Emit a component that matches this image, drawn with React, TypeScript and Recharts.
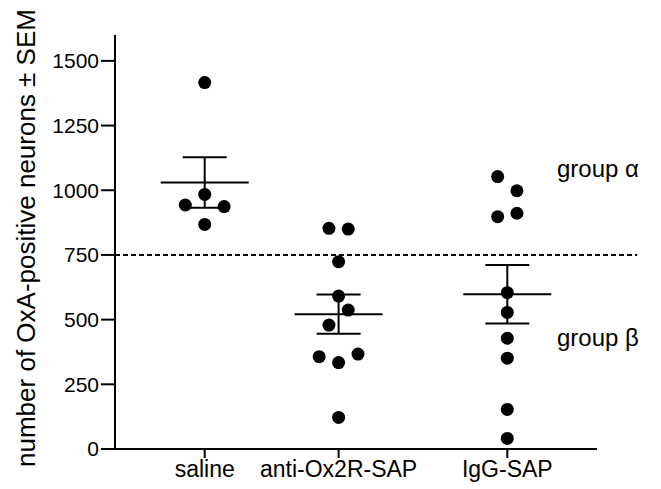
import { ErrorBar, ReferenceLine, Scatter, ScatterChart, XAxis, YAxis, Label } from "recharts"

const groupNames = ["saline", "anti-Ox2R-SAP", "IgG-SAP"]
const groupX = [1, 2, 3.26]

const salineValues = [1416, 984, 943, 937, 868]
const salineJitter = [0, 0, -0.145, 0.145, 0]

const antiValues = [853, 850, 724, 591, 537, 479, 357, 367, 334, 122]
const antiJitter = [-0.072, 0.072, 0, 0, 0.072, -0.072, -0.145, 0.145, 0, 0]

const iggValues = [1053, 998, 898, 911, 604, 528, 428, 351, 153, 41]
const iggJitter = [-0.072, 0.072, -0.072, 0.072, 0, 0, 0, 0, 0, 0]

const groupMeans = [1030, 521, 598]
const groupSem = [98, 76, 113]

const yTicks = [0, 250, 500, 750, 1000, 1250, 1500]
const threshold = 750

const toPoints = (values: number[], jitter: number[], center: number) =>
  values.map((v, i) => ({ x: center + jitter[i], y: v }))

const salinePoints = toPoints(salineValues, salineJitter, groupX[0])
const antiPoints = toPoints(antiValues, antiJitter, groupX[1])
const iggPoints = toPoints(iggValues, iggJitter, groupX[2])

const meanPoints = groupX.map((x, i) => ({ x, y: groupMeans[i], sem: groupSem[i] }))

const font = "'Liberation Sans', Arial, sans-serif"

const Dot = (props: any) => <circle cx={props.cx} cy={props.cy} r={6.5} fill="#000" />

const MeanLine = (props: any) => (
  <line x1={props.cx - 44} x2={props.cx + 44} y1={props.cy} y2={props.cy} stroke="#000" strokeWidth={2} />
)

const tickName = (v: number) => {
  const i = groupX.indexOf(v)
  return i >= 0 ? groupNames[i] : ""
}

const App = () => {
  return (
    <div style={{ position: "absolute", left: 0, top: 0, width: 661, height: 489, background: "#fff", fontFamily: font }}>
      <ScatterChart width={661} height={489} margin={{ top: 35, right: 64, bottom: 0, left: 0 }}>
        <XAxis
          type="number"
          dataKey="x"
          domain={[0.33, 3.93]}
          ticks={groupX}
          tickFormatter={tickName}
          allowDataOverflow
          height={40}
          tickSize={9}
          tickMargin={3}
          stroke="#000"
          strokeWidth={2}
          tick={{ fill: "#000", fontSize: 23, fontFamily: font }}
        />
        <YAxis
          type="number"
          dataKey="y"
          domain={[0, 1600]}
          ticks={yTicks}
          width={115}
          tickSize={14}
          tickMargin={2}
          stroke="#000"
          strokeWidth={2}
          tick={{ fill: "#000", fontSize: 21, fontFamily: font }}
        >
          <Label
            content={() => (
              <text
                transform="translate(35,238) rotate(-90)"
                textAnchor="middle"
                fontSize={26}
                fontFamily={font}
                fill="#000"
              >
                number of OxA-positive neurons ± SEM
              </text>
            )}
          />
        </YAxis>
        <ReferenceLine
          segment={[
            { x: 0.33, y: threshold },
            { x: 4.23, y: threshold },
          ]}
          ifOverflow="visible"
          stroke="#000"
          strokeWidth={2}
          strokeDasharray="5 3"
        />
        <Scatter data={meanPoints} shape={MeanLine} isAnimationActive={false}>
          <ErrorBar dataKey="sem" direction="y" width={22} stroke="#000" strokeWidth={2} />
        </Scatter>
        <Scatter data={salinePoints} shape={Dot} isAnimationActive={false} />
        <Scatter data={antiPoints} shape={Dot} isAnimationActive={false} />
        <Scatter data={iggPoints} shape={Dot} isAnimationActive={false} />
      </ScatterChart>
      <div style={{ position: "absolute", left: 557, top: 155, fontSize: 24, color: "#000", whiteSpace: "nowrap" }}>
        group α
      </div>
      <div style={{ position: "absolute", left: 557, top: 324, fontSize: 24, color: "#000", whiteSpace: "nowrap" }}>
        group β
      </div>
    </div>
  )
}

export default App
